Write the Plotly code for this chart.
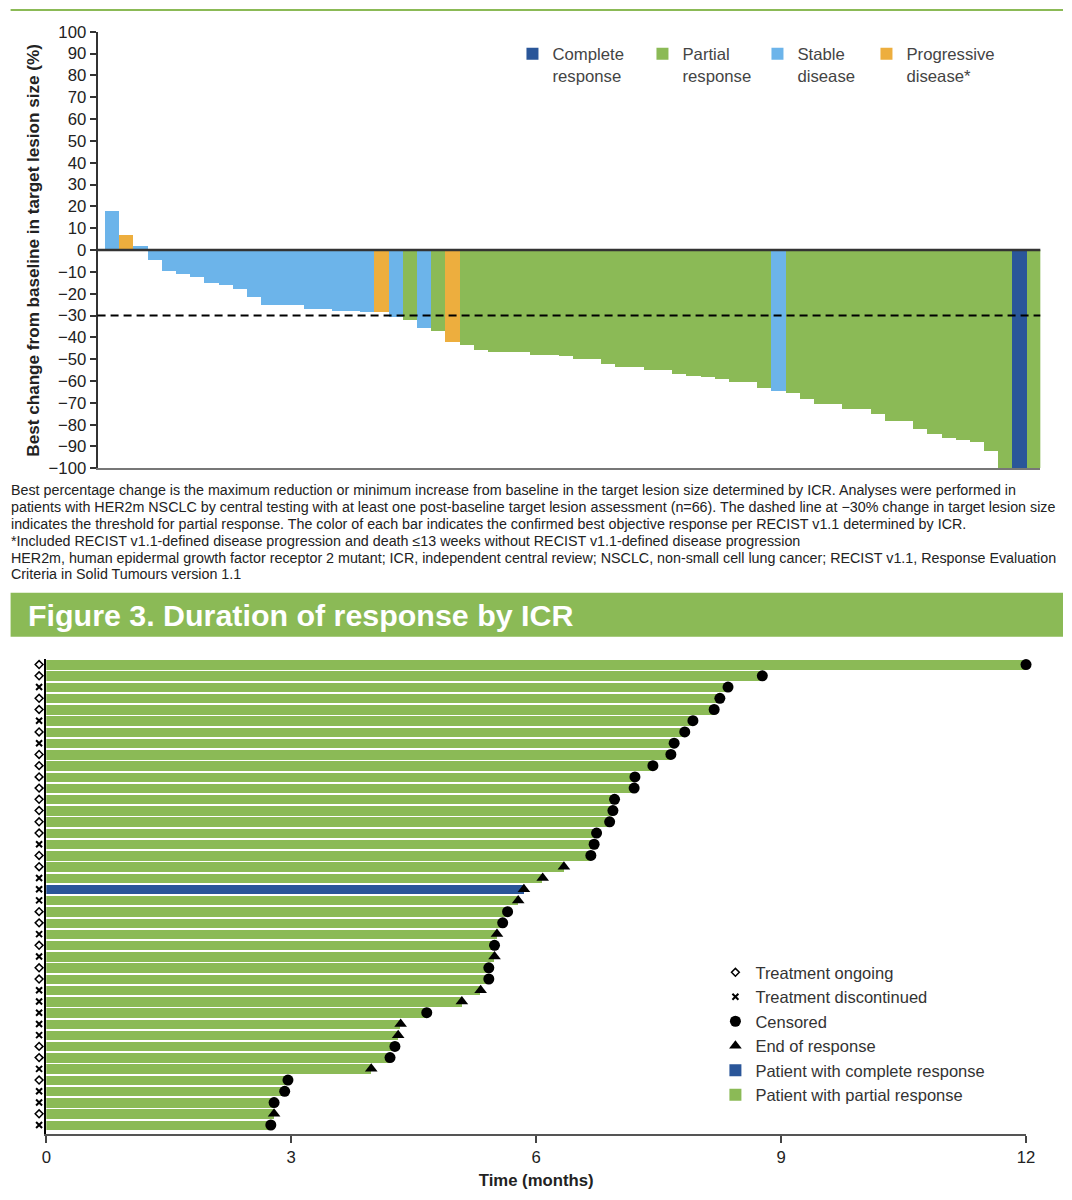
import plotly.graph_objects as go

W, H = 1072, 1200
# The captured picture comes out slightly scaled/offset relative to page pixels;
# positions below are given in picture pixels and converted here.
A_X, B_X = 0.9872, 4.4
A_Y, B_Y = 0.9876, 8.1
FS = 1 / 0.987


def px(x):
    return ((x - B_X) / A_X) / W


def py(y):
    return 1 - ((y - B_Y) / A_Y) / H


def fs(s):
    return round(s * FS, 2)


FONT = "Liberation Sans, Arial, sans-serif"
GREEN = "#8BBA56"
CR_BLUE = "#2A5699"
SD_BLUE = "#6CB4EA"
PD_ORANGE = "#EDAE3E"

# ---------------- Figure 2: waterfall (best % change, n=66) ----------------
wf_change = [18, 7, 1.8, -4.3, -9.6, -10.7, -12.3, -15.2, -16.1, -17.7,
             -21.3, -25.0, -25.0, -25.0, -26.8, -26.8, -27.9, -27.9, -28.5, -28.5,
             -30.4, -32.1, -35.8, -36.8, -42.1, -43.2, -45.6, -46.7, -46.7, -46.7,
             -47.8, -47.8, -48.5, -50.0, -50.0, -52.3, -53.6, -53.6, -54.7, -54.7,
             -56.8, -57.5, -58.3, -59.1, -60.4, -60.4, -63.0, -64.5, -65.2, -68.3,
             -70.6, -70.6, -72.6, -72.6, -75.2, -78.2, -78.2, -81.7, -84.3, -86.1,
             -87.0, -87.8, -92.2, -100, -100, -100]
wf_response = ["SD", "PD", "SD", "SD", "SD", "SD", "SD", "SD", "SD", "SD",
               "SD", "SD", "SD", "SD", "SD", "SD", "SD", "SD", "SD", "PD",
               "SD", "PR", "SD", "PR", "PD", "PR", "PR", "PR", "PR", "PR",
               "PR", "PR", "PR", "PR", "PR", "PR", "PR", "PR", "PR", "PR",
               "PR", "PR", "PR", "PR", "PR", "PR", "PR", "SD", "PR", "PR",
               "PR", "PR", "PR", "PR", "PR", "PR", "PR", "PR", "PR", "PR",
               "PR", "PR", "PR", "PR", "CR", "PR"]
resp_codes = ["CR", "PR", "SD", "PD"]
resp_labels = ["Complete<br>response", "Partial<br>response",
               "Stable<br>disease", "Progressive<br>disease*"]
resp_colors = [CR_BLUE, GREEN, SD_BLUE, PD_ORANGE]
resp_legend_width = [85, 70, 64, None]
wf_ticks = list(range(-100, 101, 10))
pr_threshold = -30

caption_lines = [
    "Best percentage change is the maximum reduction or minimum increase from baseline in the target lesion size determined by ICR. Analyses were performed in",
    "patients with HER2m NSCLC by central testing with at least one post-baseline target lesion assessment (n=66). The dashed line at \u221230% change in target lesion size",
    "indicates the threshold for partial response. The color of each bar indicates the confirmed best objective response per RECIST v1.1 determined by ICR.",
    "*Included RECIST v1.1-defined disease progression and death \u226413 weeks without RECIST v1.1-defined disease progression",
    "HER2m, human epidermal growth factor receptor 2 mutant; ICR, independent central review; NSCLC, non-small cell lung cancer; RECIST v1.1, Response Evaluation",
    "Criteria in Solid Tumours version 1.1",
]

# ---------------- Figure 3: swimmer (duration of response, months) ----------------
sw_duration = [12.0, 8.77, 8.35, 8.25, 8.18, 7.92, 7.82, 7.69, 7.65, 7.43,
               7.21, 7.20, 6.96, 6.94, 6.90, 6.74, 6.71, 6.67, 6.34, 6.08,
               5.85, 5.78, 5.65, 5.59, 5.52, 5.49, 5.49, 5.42, 5.42, 5.32,
               5.09, 4.66, 4.34, 4.31, 4.27, 4.21, 3.98, 2.96, 2.92, 2.79,
               2.79, 2.75]
# C = censored, E = end of response
sw_event = ["C", "C", "C", "C", "C", "C", "C", "C", "C", "C",
            "C", "C", "C", "C", "C", "C", "C", "C", "E", "E",
            "E", "E", "C", "C", "E", "C", "E", "C", "C", "E",
            "E", "C", "E", "E", "C", "C", "E", "C", "C", "C",
            "E", "C"]
sw_response = ["PR"] * 20 + ["CR"] + ["PR"] * 21
# O = treatment ongoing, D = treatment discontinued
sw_treatment = ["O", "O", "D", "O", "O", "D", "O", "D", "O", "O",
                "O", "O", "O", "O", "O", "O", "D", "O", "O", "D",
                "D", "D", "O", "O", "D", "O", "D", "O", "O", "D",
                "D", "D", "D", "D", "O", "O", "D", "O", "D", "D",
                "O", "D"]
sw_patient = list(range(1, len(sw_duration) + 1))
sw_ticks = [0, 3, 6, 9, 12]

fig = go.Figure()

# waterfall bars
for code, label, color, lw in zip(resp_codes, resp_labels, resp_colors, resp_legend_width):
    idx = [i for i, r in enumerate(wf_response) if r == code]
    fig.add_trace(go.Bar(
        x=idx, y=[wf_change[i] for i in idx], name=label,
        marker=dict(color=color, line=dict(width=0)), width=1.0,
        xaxis="x", yaxis="y", legend="legend", legendwidth=lw, hoverinfo="skip",
    ))

# swimmer: treatment status column (own narrow x axis left of the time axis)
for code, name, sym, size, lwid, rank in [("O", "Treatment ongoing", "diamond-open", 6, 1.5, 1),
                                          ("D", "Treatment discontinued", "x-thin", 6, 2, 2)]:
    rows = [p for p, t in zip(sw_patient, sw_treatment) if t == code]
    fig.add_trace(go.Scatter(
        x=[0.5] * len(rows), y=rows, mode="markers", name=name,
        marker=dict(symbol=sym, size=size, color="black", line=dict(color="black", width=lwid)),
        xaxis="x3", yaxis="y2", legend="legend2", legendrank=rank,
    ))

# swimmer: end markers
for code, name, sym, rank in [("C", "Censored", "circle", 3), ("E", "End of response", "triangle-up", 4)]:
    rows = [p for p, e in zip(sw_patient, sw_event) if e == code]
    durs = [d for d, e in zip(sw_duration, sw_event) if e == code]
    fig.add_trace(go.Scatter(
        x=durs, y=rows, mode="markers", name=name,
        marker=dict(symbol=sym, size=11, color="black", line=dict(width=0)),
        cliponaxis=False, xaxis="x2", yaxis="y2", legend="legend2", legendrank=rank,
    ))

# swimmer: bars
for code, name, color, rank in [("CR", "Patient with complete response", CR_BLUE, 5),
                                ("PR", "Patient with partial response", GREEN, 6)]:
    rows = [p for p, r in zip(sw_patient, sw_response) if r == code]
    durs = [d for d, r in zip(sw_duration, sw_response) if r == code]
    fig.add_trace(go.Bar(
        x=durs, y=rows, orientation="h", name=name, width=0.84,
        marker=dict(color=color, line=dict(width=0)),
        xaxis="x2", yaxis="y2", legend="legend2", legendrank=rank,
    ))

shapes = [
    dict(type="line", xref="paper", yref="paper", x0=px(10), x1=1, y0=py(9), y1=py(9),
         line=dict(color=GREEN, width=2)),
    dict(type="line", xref="x domain", yref="y", x0=0, x1=1, y0=0, y1=0,
         line=dict(color="#333333", width=2.5)),
    dict(type="line", xref="x domain", yref="y", x0=0, x1=1, y0=pr_threshold, y1=pr_threshold,
         line=dict(color="black", width=2, dash="8px,5px")),
    dict(type="rect", xref="paper", yref="paper", x0=px(10), x1=1, y0=py(638), y1=py(594),
         fillcolor=GREEN, line=dict(width=0), layer="below"),
]

annotations = [
    dict(text="<b>Best change from baseline in target lesion size (%)</b>", textangle=-90,
         xref="paper", yref="paper", x=px(32), y=py(250), xanchor="center", yanchor="middle",
         showarrow=False, font=dict(size=fs(16.9), color="#222")),
    dict(text="<b>Figure 3. Duration of response by ICR</b>", xref="paper", yref="paper",
         x=px(25), y=py(616), xanchor="left", yanchor="middle", showarrow=False,
         font=dict(size=fs(30), color="white")),
]
for k, line in enumerate(caption_lines):
    annotations.append(dict(text=line, xref="paper", yref="paper", x=px(8.5), y=py(491 + 16.9 * k),
                            xanchor="left", yanchor="middle", showarrow=False,
                            font=dict(size=fs(14.1), color="#222")))

fig.update_layout(
    width=W, height=H, margin=dict(l=0, r=0, t=0, b=0),
    paper_bgcolor="white", plot_bgcolor="rgba(0,0,0,0)",
    barmode="overlay", bargap=0,
    font=dict(family=FONT, size=fs(16), color="#222"),
    xaxis=dict(domain=[px(97), px(1040)], range=[-1.0, 65.5], showticklabels=False, ticks="",
               showgrid=False, zeroline=False, showline=True, linecolor="#777", linewidth=2,
               anchor="y"),
    yaxis=dict(domain=[py(469), py(31)], range=[-100, 100], tickmode="array", tickvals=wf_ticks,
               ticks="outside", ticklen=6, tickwidth=1.5, tickcolor="#333", showline=True,
               linecolor="#333", linewidth=2, showgrid=False, zeroline=False,
               tickfont=dict(size=fs(16.5), color="#222"), anchor="x"),
    xaxis2=dict(domain=[px(45.7), px(1025.7)], range=[0, 12], tickmode="array", tickvals=sw_ticks,
                ticks="outside", ticklen=7, tickwidth=1.5, tickcolor="#444", showline=True,
                linecolor="#555", linewidth=2, showgrid=False, zeroline=False, anchor="y2",
                tickfont=dict(size=fs(16.5), color="#222"),
                title=dict(text="<b>Time (months)</b>", font=dict(size=fs(16.5), color="#222"), standoff=8)),
    yaxis2=dict(domain=[py(1137), py(660)], range=[42.8, 0.47], showticklabels=False, ticks="",
                showline=True, linecolor="black", linewidth=1.5, showgrid=False, zeroline=False,
                anchor="x2"),
    xaxis3=dict(domain=[px(31), px(46)], range=[0, 1], visible=False, anchor="y2"),
    legend=dict(orientation="h", x=px(512), y=py(35.5), xanchor="left", yanchor="top",
                font=dict(size=fs(16.5), color="#444"), valign="top", traceorder="normal",
                bgcolor="rgba(0,0,0,0)"),
    legend2=dict(x=px(715), y=py(957.5), xanchor="left", yanchor="top",
                 font=dict(size=fs(16.3), color="#333"), traceorder="normal", tracegroupgap=0,
                 bgcolor="rgba(0,0,0,0)"),
    shapes=shapes, annotations=annotations,
)

fig.write_html("out.html", config={"displayModeBar": False},
               post_script="document.body.style.margin='0';")
